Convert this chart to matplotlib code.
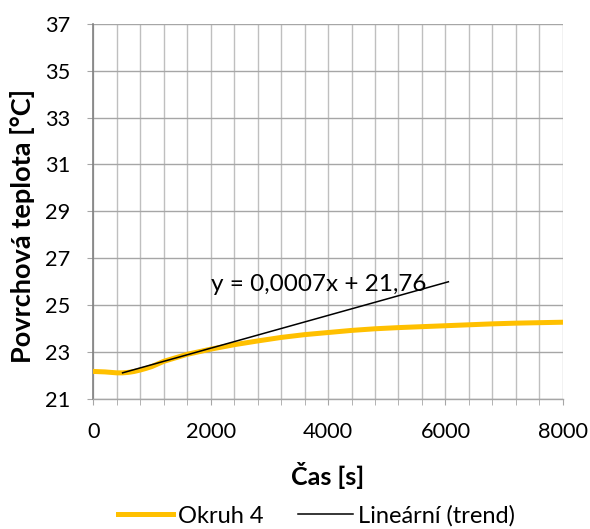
import matplotlib
matplotlib.use("Agg")
import matplotlib.pyplot as plt
import numpy as np

# Data
time_s = [0, 100, 200, 300, 400, 500, 600, 700, 800, 900, 1000, 1200, 1600, 2000,
          2400, 2800, 3200, 3600, 4000, 4400, 4800, 5200, 5600, 6000, 6400, 6800,
          7200, 7600, 8000]
temp_c = [22.17, 22.16, 22.15, 22.13, 22.11, 22.11, 22.13, 22.17, 22.23, 22.30,
          22.38, 22.60, 22.90, 23.12, 23.31, 23.47, 23.62, 23.74, 23.83, 23.92,
          23.99, 24.04, 24.08, 24.12, 24.16, 24.20, 24.23, 24.25, 24.27]
trend_slope = 0.0007
trend_intercept = 21.76
trend_range = [500, 6050]
series_label = "Okruh 4"
trend_label = "Lineární (trend)"
eq_text = "y = 0,0007x + 21,76"
x_ticks = [0, 2000, 4000, 6000, 8000]
y_ticks = [21, 23, 25, 27, 29, 31, 33, 35, 37]

plt.rcParams['font.family'] = ['Lato', 'DejaVu Sans']

fig = plt.figure(figsize=(5.9, 5.29), dpi=100)
ax = fig.add_axes([0.158, 0.246, 0.796, 0.709])

tx = np.array(trend_range)
ty = trend_slope * tx + trend_intercept

ax.plot(time_s, temp_c, color="#FFC000", lw=3.6, label=series_label, zorder=3)
ax.plot(tx, ty, color="black", lw=1.1, label=trend_label, zorder=4)

ax.set_xlim(0, 8000)
ax.set_ylim(21, 37)
ax.set_xticks(x_ticks)
ax.set_xticks(np.arange(0, 8001, 400), minor=True)
ax.set_yticks(y_ticks)
ax.grid(True, which='both', axis='x', color="#BFBFBF", lw=1.0, zorder=0)
ax.grid(True, which='major', axis='y', color="#A6A6A6", lw=1.0, zorder=0)

for s in ['top', 'right']:
    ax.spines[s].set_visible(False)
ax.spines['left'].set_color("#808080")
ax.spines['bottom'].set_color("#A6A6A6")
ax.spines['left'].set_linewidth(1.2)
ax.spines['bottom'].set_linewidth(1.0)

ax.tick_params(axis='both', which='both', direction='out', length=4.5,
               color="#A6A6A6", labelsize=15.7, labelcolor="black")
ax.tick_params(axis='x', which='major', pad=12)
ax.tick_params(axis='y', pad=12)

ax.text(3847, 25.86, eq_text, fontsize=17.5, ha='center', va='center', zorder=5)

ax.set_xlabel("Čas [s]", fontsize=18, fontweight='bold', va='center')
ax.xaxis.set_label_coords(0.5, -0.205)
ax.set_ylabel("Povrchová teplota [°C]", fontsize=19.5, fontweight='bold', va='center')
ax.yaxis.set_label_coords(-0.151, 0.461)

fig.legend(loc='center', bbox_to_anchor=(0.536, 1 - 516 / 529), ncol=2,
           frameon=False, fontsize=17, handlelength=2.33, columnspacing=1.48,
           handletextpad=0.2)

fig.savefig("out.png", dpi=100)
